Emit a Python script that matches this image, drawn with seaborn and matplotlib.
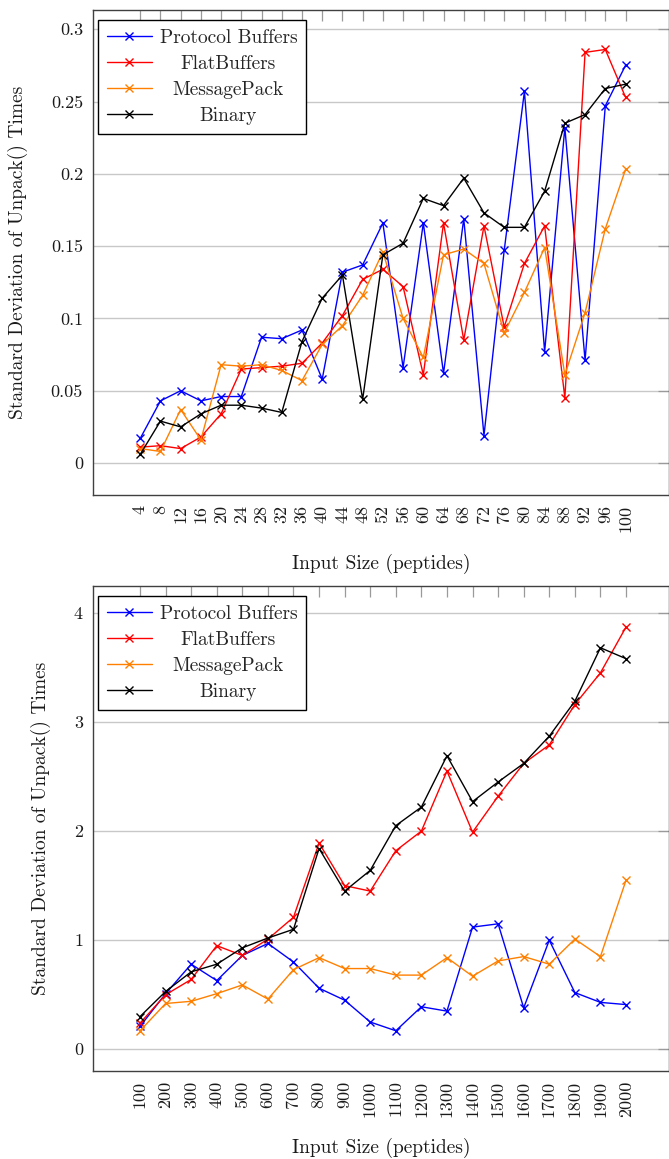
import numpy as np
import pandas as pd
import matplotlib
matplotlib.use("Agg")
import matplotlib.pyplot as plt
import seaborn as sns

# ---------------- data ----------------
series_names = ["Protocol Buffers", "FlatBuffers", "MessagePack", "Binary"]
series_colors = ["#0000ff", "#ff0000", "#ff8000", "#000000"]

sizes_small = [4, 8, 12, 16, 20, 24, 28, 32, 36, 40, 44, 48,
               52, 56, 60, 64, 68, 72, 76, 80, 84, 88, 92, 96, 100]
pb_small = [0.017, 0.043, 0.050, 0.043, 0.046, 0.046, 0.087, 0.086, 0.092, 0.058, 0.132, 0.137,
            0.166, 0.066, 0.166, 0.062, 0.169, 0.019, 0.147, 0.257, 0.077, 0.232, 0.071, 0.247, 0.275]
fb_small = [0.011, 0.012, 0.010, 0.018, 0.034, 0.065, 0.066, 0.067, 0.069, 0.083, 0.102, 0.127,
            0.134, 0.122, 0.061, 0.166, 0.085, 0.164, 0.094, 0.138, 0.164, 0.045, 0.284, 0.286, 0.253]
mp_small = [0.010, 0.008, 0.037, 0.016, 0.068, 0.067, 0.068, 0.064, 0.057, 0.082, 0.095, 0.116,
            0.146, 0.100, 0.073, 0.144, 0.148, 0.138, 0.090, 0.118, 0.149, 0.061, 0.104, 0.162, 0.203]
bin_small = [0.006, 0.029, 0.025, 0.034, 0.040, 0.040, 0.038, 0.035, 0.084, 0.114, 0.130, 0.044,
             0.144, 0.152, 0.183, 0.178, 0.197, 0.173, 0.163, 0.163, 0.188, 0.235, 0.241, 0.259, 0.262]

sizes_large = [100, 200, 300, 400, 500, 600, 700, 800, 900, 1000,
               1100, 1200, 1300, 1400, 1500, 1600, 1700, 1800, 1900, 2000]
pb_large = [0.21, 0.51, 0.78, 0.63, 0.86, 0.97, 0.80, 0.56, 0.45, 0.25,
            0.17, 0.39, 0.35, 1.12, 1.15, 0.38, 1.00, 0.52, 0.43, 0.41]
fb_large = [0.24, 0.50, 0.64, 0.95, 0.86, 1.01, 1.21, 1.89, 1.50, 1.45,
            1.82, 2.00, 2.55, 1.99, 2.32, 2.62, 2.79, 3.16, 3.45, 3.87]
mp_large = [0.17, 0.42, 0.44, 0.51, 0.59, 0.46, 0.73, 0.84, 0.74, 0.74,
            0.68, 0.68, 0.84, 0.67, 0.81, 0.85, 0.78, 1.01, 0.85, 1.55]
bin_large = [0.30, 0.53, 0.71, 0.78, 0.93, 1.02, 1.10, 1.84, 1.45, 1.64,
             2.05, 2.22, 2.69, 2.27, 2.45, 2.62, 2.87, 3.19, 3.68, 3.58]

yticks_small = [0, 0.05, 0.1, 0.15, 0.2, 0.25, 0.3]
ytick_labels_small = ["0", "0.05", "0.1", "0.15", "0.2", "0.25", "0.3"]
yticks_large = [0, 1, 2, 3, 4]
ytick_labels_large = ["0", "1", "2", "3", "4"]

ylabel_text = "Standard Deviation of Unpack() Times"
xlabel_text = "Input Size (peptides)"

# ---------------- style ----------------
sns.set_style("white")
plt.rcParams["font.family"] = ["cmr10", "DejaVu Serif"]
plt.rcParams["axes.formatter.use_mathtext"] = True
plt.rcParams["axes.unicode_minus"] = False

FS = 14
TFS = 13
SPINE = "#404040"
TICKC = "#9a9a9a"
GRIDC = "#c8c8c8"
TXT = "#1a1a1a"

fig = plt.figure(figsize=(6.69, 11.59), dpi=100)
W, H = 669.0, 1159.0


def make_axes(left_px, top_px, right_px, bottom_px):
    return fig.add_axes([left_px / W, 1 - bottom_px / H,
                         (right_px - left_px) / W, (bottom_px - top_px) / H])


ax1 = make_axes(92.7, 10.0, 669.5, 495.0)
ax2 = make_axes(92.7, 586.0, 669.5, 1070.7)


def draw(ax, xs, ys_list, xlim, ylim, yticks, ylabels, ylab_x, xlab_y):
    for name, col, ys in zip(series_names, series_colors, ys_list):
        df = pd.DataFrame({"x": xs, "y": ys})
        sns.lineplot(data=df, x="x", y="y", ax=ax, color=col, marker="x",
                     markersize=5.5, markeredgewidth=1.0, markeredgecolor=col,
                     linewidth=1.0, label=name, sort=False, errorbar=None)
    ax.set_xlim(*xlim)
    ax.set_ylim(*ylim)
    ax.set_xticks(xs)
    ax.set_xticklabels([str(v) for v in xs], rotation=90, fontsize=TFS)
    ax.set_yticks(yticks)
    ax.set_yticklabels(ylabels, fontsize=TFS)
    ax.yaxis.grid(True, color=GRIDC, linewidth=1.0)
    ax.xaxis.grid(False)
    ax.set_axisbelow(True)
    ax.tick_params(axis="both", direction="in", length=8, width=0.9,
                   color=TICKC, top=True, right=True, pad=7, labelcolor=TXT)
    for s in ax.spines.values():
        s.set_color(SPINE)
        s.set_linewidth(1.0)
        s.set_visible(True)
    ax.set_ylabel(ylabel_text, fontsize=FS, color=TXT)
    ax.set_xlabel(xlabel_text, fontsize=FS, color=TXT)
    ax.yaxis.set_label_coords(ylab_x, 0.5)
    ax.xaxis.set_label_coords(0.5, xlab_y)
    leg = ax.legend(loc="upper left", bbox_to_anchor=(0.0097, 0.979),
                    borderaxespad=0, fontsize=FS, frameon=True, fancybox=False,
                    edgecolor="black", framealpha=1.0, numpoints=1,
                    handlelength=2.3, handletextpad=0.4, labelspacing=0.42,
                    borderpad=0.45)
    leg.get_frame().set_linewidth(1.0)
    return leg


leg1 = draw(ax1, sizes_small, [pb_small, fb_small, mp_small, bin_small],
            (-5.4, 108.7), (-0.0221, 0.3133), yticks_small, ytick_labels_small,
            -0.112, -0.122)
leg2 = draw(ax2, sizes_large, [pb_large, fb_large, mp_large, bin_large],
            (-85, 2170), (-0.196, 4.246), yticks_large, ytick_labels_large,
            -0.072, -0.138)

# centre the legend labels inside their column
fig.canvas.draw()
r = fig.canvas.get_renderer()
for leg in (leg1, leg2):
    texts = leg.get_texts()
    widths = [t.get_window_extent(r).width for t in texts]
    mw = max(widths)
    for t, w in zip(texts, widths):
        t.set_x((mw - w) / 2.0)

fig.savefig("out.png", dpi=100)
